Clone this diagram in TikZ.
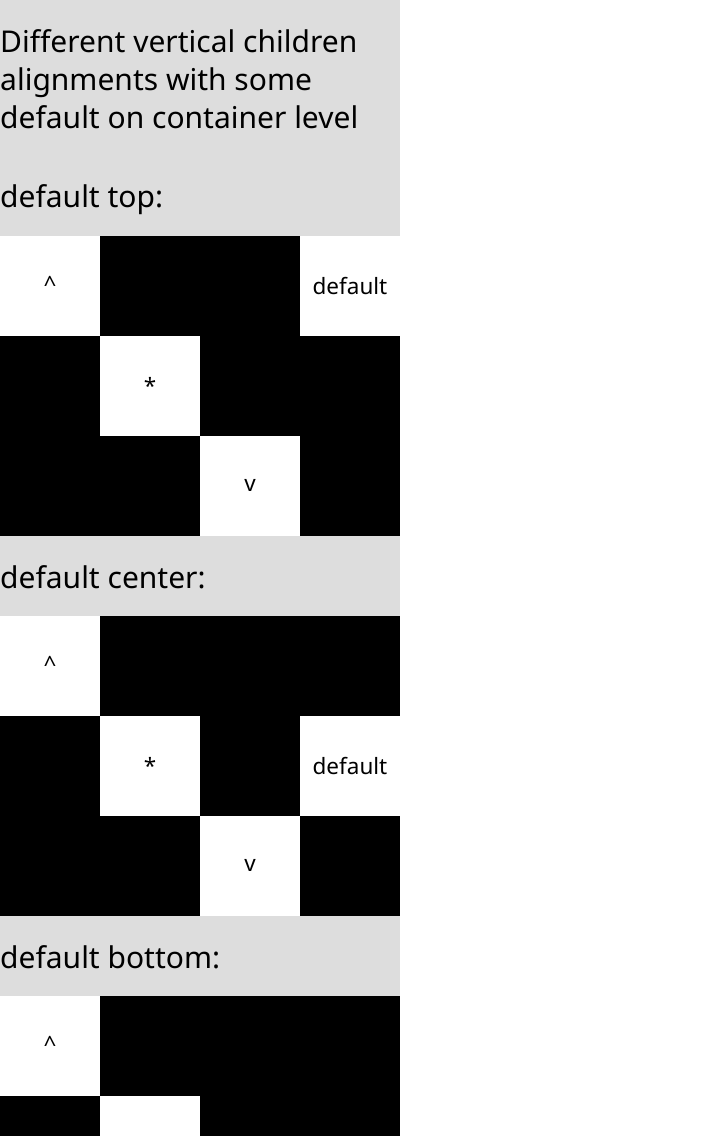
\documentclass[tikz,border=0pt]{standalone}
\usepackage{fontspec}
\setmainfont{Noto Sans}
\definecolor{hdrgray}{HTML}{DDDDDD}
\begin{document}
\begin{tikzpicture}[x=1pt,y=-1pt,
  hdr/.style={fill=hdrgray,draw=none},
  blk/.style={fill=black,draw=none},
  title/.style={anchor=base west,inner sep=0pt,font=\fontsize{30}{38}\selectfont},
  lbl/.style={anchor=base,inner sep=0pt,font=\fontsize{22.5}{26}\selectfont}]
\useasboundingbox (0,0) rectangle (720,1136);
\fill[white] (0,0) rectangle (720,1136);
% header areas
\fill[hdr] (0,0) rectangle (400,236);
\fill[hdr] (0,536) rectangle (400,616);
\fill[hdr] (0,916) rectangle (400,996);
\node[title] (t1) at (0,52) {Different vertical children};
\node[title] (t2) at (0,90) {alignments with some};
\node[title] (t3) at (0,128) {default on container level};
\node[title] (h1) at (0,207) {default top:};
\node[title] (h2) at (0,588) {default center:};
\node[title] (h3) at (0,968) {default bottom:};
% grid 1
\fill[blk] (100,236) rectangle (300,336);
\fill[blk] (0,336) rectangle (100,436);
\fill[blk] (200,336) rectangle (400,436);
\fill[blk] (0,436) rectangle (200,536);
\fill[blk] (300,436) rectangle (400,536);
\node[lbl] (a1) at (50,292) {\^{}};
\node[lbl] (a2) at (150,394) {*};
\node[lbl] (a3) at (250,491) {v};
\node[lbl] (a4) at (350,294) {default};
% grid 2
\fill[blk] (100,616) rectangle (400,716);
\fill[blk] (0,716) rectangle (100,816);
\fill[blk] (200,716) rectangle (300,816);
\fill[blk] (0,816) rectangle (200,916);
\fill[blk] (300,816) rectangle (400,916);
\node[lbl] (b1) at (50,672) {\^{}};
\node[lbl] (b2) at (150,774) {*};
\node[lbl] (b3) at (250,871) {v};
\node[lbl] (b4) at (350,774) {default};
% grid 3
\fill[blk] (100,996) rectangle (400,1096);
\fill[blk] (0,1096) rectangle (100,1136);
\fill[blk] (200,1096) rectangle (400,1136);
\node[lbl] (c1) at (50,1052) {\^{}};
\end{tikzpicture}
\end{document}
